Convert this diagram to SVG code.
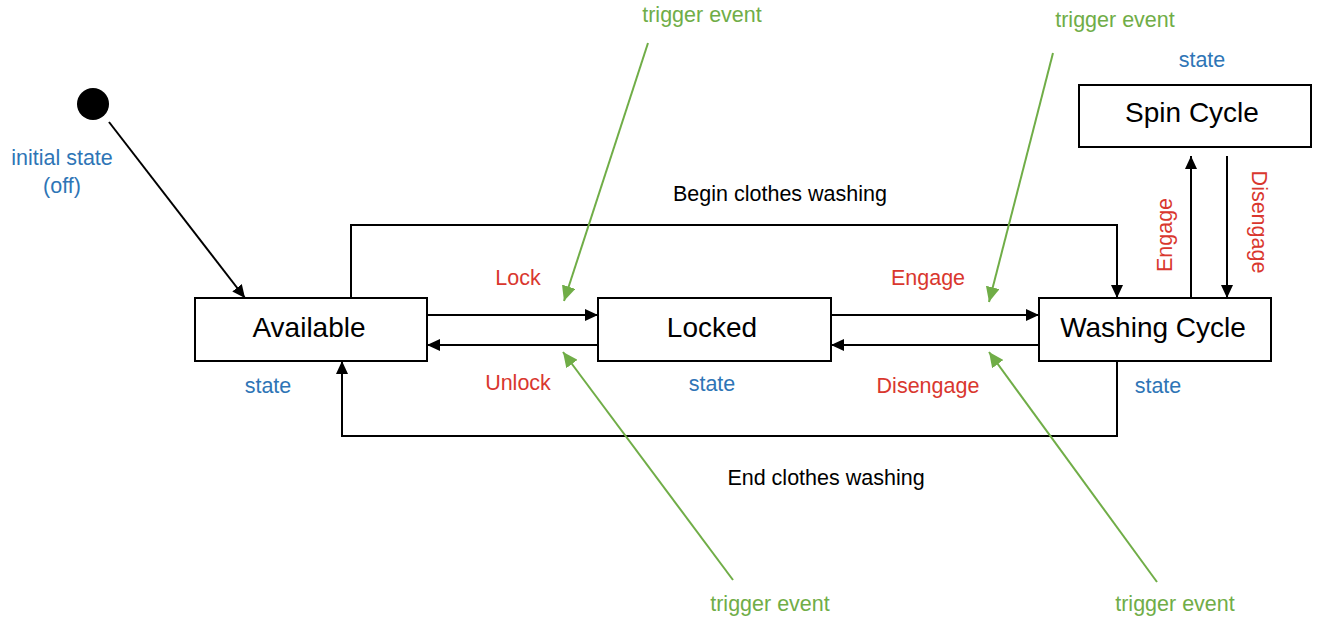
<svg xmlns="http://www.w3.org/2000/svg" width="1322" height="628" viewBox="0 0 1322 628">
<style>
.node rect{fill:#fff;stroke:#000;stroke-width:2}
.nt{font-family:"Liberation Sans",Arial,sans-serif;font-size:28px;fill:#000;text-anchor:middle}
.lb{font-family:"Liberation Sans",Arial,sans-serif;font-size:21.5px;text-anchor:middle}
.blk{fill:#000}
.blue{fill:#2E75B6}
.red{fill:#D9372E}
.green{fill:#70AD47}
.c{fill:none;stroke:#000;stroke-width:2}
.g{fill:none;stroke:#70AD47;stroke-width:2}
</style>
<defs>
<marker id="ah" markerUnits="userSpaceOnUse" markerWidth="14" markerHeight="12" refX="13" refY="6" orient="auto">
<path d="M0,0 L13,6 L0,12 Z" fill="#000"/>
</marker>
<marker id="gh" markerUnits="userSpaceOnUse" markerWidth="16" markerHeight="14" refX="15" refY="7" orient="auto">
<path d="M0,0 L15,7 L0,14 Z" fill="#70AD47"/>
</marker>
</defs>
<rect width="1322" height="628" fill="#fff"/>
<g id="initial">
<circle cx="93" cy="104" r="16" fill="#000"/>
<text class="lb blue" x="62" y="165">initial state</text>
<text class="lb blue" x="62" y="193">(off)</text>
</g>
<g id="available" class="node">
<rect x="195" y="298" width="232" height="63"/>
<text class="nt" x="309" y="337">Available</text>
<text class="lb blue" x="268" y="393">state</text>
</g>
<g id="locked" class="node">
<rect x="598" y="298" width="233" height="63"/>
<text class="nt" x="712" y="337">Locked</text>
<text class="lb blue" x="712" y="391">state</text>
</g>
<g id="washing" class="node">
<rect x="1039" y="298" width="232" height="63"/>
<text class="nt" x="1153" y="337">Washing Cycle</text>
<text class="lb blue" x="1158" y="393">state</text>
</g>
<g id="spin" class="node">
<rect x="1079" y="85" width="232" height="62"/>
<text class="nt" x="1192" y="122">Spin Cycle</text>
<text class="lb blue" x="1202" y="67">state</text>
</g>
<g id="connectors">
<line class="c" x1="109" y1="122" x2="245" y2="298" marker-end="url(#ah)"/>
<line class="c" x1="427" y1="315" x2="598" y2="315" marker-end="url(#ah)"/>
<line class="c" x1="598" y1="345" x2="427" y2="345" marker-end="url(#ah)"/>
<line class="c" x1="831" y1="315" x2="1039" y2="315" marker-end="url(#ah)"/>
<line class="c" x1="1039" y1="345" x2="831" y2="345" marker-end="url(#ah)"/>
<path class="c" d="M351,298 V225 H1117 V298" marker-end="url(#ah)"/>
<path class="c" d="M1117,361 V436 H342 V361" marker-end="url(#ah)"/>
<line class="c" x1="1191" y1="298" x2="1191" y2="156" marker-end="url(#ah)"/>
<line class="c" x1="1227" y1="156" x2="1227" y2="298" marker-end="url(#ah)"/>
<line class="g" x1="648" y1="43" x2="564" y2="301" marker-end="url(#gh)"/>
<line class="g" x1="1053" y1="53" x2="989" y2="302" marker-end="url(#gh)"/>
<line class="g" x1="733" y1="580" x2="563" y2="352" marker-end="url(#gh)"/>
<line class="g" x1="1157" y1="582" x2="989" y2="352" marker-end="url(#gh)"/>
</g>
<g id="labels">
<text class="lb blk" x="780" y="201">Begin clothes washing</text>
<text class="lb blk" x="826" y="485">End clothes washing</text>
<text class="lb red" x="518" y="285">Lock</text>
<text class="lb red" x="518" y="390">Unlock</text>
<text class="lb red" x="928" y="285">Engage</text>
<text class="lb red" x="928" y="393">Disengage</text>
<text class="lb red" transform="translate(1172,235) rotate(-90)">Engage</text>
<text class="lb red" transform="translate(1252,222) rotate(90)">Disengage</text>
<text class="lb green" x="702" y="22">trigger event</text>
<text class="lb green" x="1115" y="27">trigger event</text>
<text class="lb green" x="770" y="611">trigger event</text>
<text class="lb green" x="1175" y="611">trigger event</text>
</g>
</svg>
